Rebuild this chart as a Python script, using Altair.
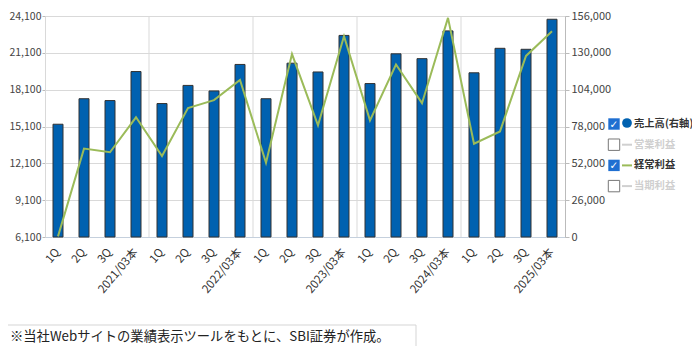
import altair as alt
import pandas as pd

# ---- data ----
periods = ["1Q", "2Q", "3Q", "2021/03本",
           "1Q", "2Q", "3Q", "2022/03本",
           "1Q", "2Q", "3Q", "2023/03本",
           "1Q", "2Q", "3Q", "2024/03本",
           "1Q", "2Q", "3Q", "2025/03本"]
sales = [79600, 97600, 96300, 116800,
         94200, 107000, 103100, 121800,
         97600, 122700, 116500, 142300,
         108300, 129300, 125900, 145500,
         115900, 133200, 132500, 153700]
ordinary_profit = [6150, 13300, 13000, 15850,
                   12700, 16600, 17250, 18900,
                   12150, 21000, 15200, 22450,
                   15600, 20150, 17000, 23950,
                   13700, 14700, 20850, 22850]
left_ticks = [6100, 9100, 12100, 15100, 18100, 21100, 24100]
right_ticks = [0, 26000, 52000, 78000, 104000, 130000, 156000]
legend_labels = ["売上高(右軸)", "営業利益", "経常利益", "当期利益"]
legend_checked = [True, False, True, False]
footnote = "※当社Webサイトの業績表示ツールをもとに、SBI証券が作成。"

keys = [f"{i:02d}|{p}" for i, p in enumerate(periods)]
df = pd.DataFrame({"key": keys, "sales": sales, "op": ordinary_profit})
year_end = df[df["key"].str.contains("本")].iloc[:-1]

W, H = 520, 221
PL, PT = 37, 8
TOTAL_W, TOTAL_H = 684, 338
OX, OY = PL + 8, PT + 8          # page offset of the plot origin
FONT = "Noto Sans CJK JP"
BLUE = "#0061b0"
GREEN = "#9bbb59"

xenc = alt.X("key:N", sort=keys, title=None,
             scale=alt.Scale(paddingInner=0, paddingOuter=0),
             axis=alt.Axis(labelExpr="split(datum.label, '|')[1]", labelAngle=310,
                           ticks=False, domainColor="#c5d0dd", labelColor="#333",
                           labelFontSize=11.5, labelPadding=13, labelFont=FONT))

year_rules = alt.Chart(year_end).mark_rule(color="#d9d9d9", strokeWidth=1).encode(
    x=alt.X("key:N", sort=keys, bandPosition=1),
    y=alt.value(0), y2=alt.value(H))

bars = alt.Chart(df).mark_bar(size=10, color=BLUE, stroke="#333", strokeWidth=1).encode(
    x=xenc,
    y=alt.Y("sales:Q", title=None,
            scale=alt.Scale(domain=[0, 156000], nice=False),
            axis=alt.Axis(orient="right", values=right_ticks, format=",d", grid=False,
                          domainColor="#bbbbbb", tickColor="#bbbbbb", tickSize=4,
                          labelColor="#444", labelFontSize=11, labelPadding=2,
                          labelFont=FONT)))

line = alt.Chart(df).mark_line(color=GREEN, strokeWidth=2).encode(
    x=alt.X("key:N", sort=keys),
    y=alt.Y("op:Q", title=None,
            scale=alt.Scale(domain=[6100, 24100], nice=False, zero=False),
            axis=alt.Axis(orient="left", values=left_ticks, format=",d", grid=True,
                          gridColor="#d9d9d9", domainColor="#d9d9d9", tickColor="#bbbbbb",
                          tickSize=3, labelColor="#444", labelFontSize=10.5, labelPadding=1,
                          labelFont=FONT)))

one = pd.DataFrame({"a": [0]})
legend_layers = []
ly0, lstep = 124 - OY, 20.7
cx = 614 - OX
for i, (lab, chk) in enumerate(zip(legend_labels, legend_checked)):
    y = ly0 + i * lstep
    if chk:
        legend_layers.append(alt.Chart(one).mark_point(
            shape="square", size=130, filled=True, color="#1f6fd1", opacity=1).encode(
            x=alt.value(cx), y=alt.value(y)))
        legend_layers.append(alt.Chart(one).mark_text(
            font="DejaVu Sans", fontSize=10.5, fontWeight="bold", color="white").encode(
            x=alt.value(cx), y=alt.value(y + 1), text=alt.value("✓")))
    else:
        legend_layers.append(alt.Chart(one).mark_point(
            shape="square", size=130, filled=True, fill="white", stroke="#777",
            strokeWidth=1, opacity=1).encode(x=alt.value(cx), y=alt.value(y)))
    if i == 0:
        legend_layers.append(alt.Chart(one).mark_point(
            shape="circle", size=95, filled=True, color=BLUE, opacity=1).encode(
            x=alt.value(cx + 13), y=alt.value(y - 1)))
    else:
        legend_layers.append(alt.Chart(one).mark_rule(
            color=GREEN if chk else "#d0d0d0", strokeWidth=2).encode(
            x=alt.value(cx + 8), x2=alt.value(cx + 18), y=alt.value(y)))
    legend_layers.append(alt.Chart(one).mark_text(
        align="left", baseline="middle", font=FONT, fontSize=10.3, fontWeight="bold",
        color="#333" if chk else "#cfcfcf").encode(
        x=alt.value(cx + 20), y=alt.value(y), text=alt.value(lab)))

box_top = alt.Chart(one).mark_rule(color="#d5d5d5", strokeWidth=1).encode(
    x=alt.value(-PL), x2=alt.value(416 - OX), y=alt.value(325 - OY))
box_side = alt.Chart(one).mark_rule(color="#d5d5d5", strokeWidth=1).encode(
    x=alt.value(416 - OX), y=alt.value(325 - OY), y2=alt.value(346 - OY))
note = alt.Chart(one).mark_text(
    align="left", baseline="middle", font=FONT, fontSize=13.3, color="#222").encode(
    x=alt.value(10 - OX), y=alt.value(337 - OY), text=alt.value(footnote))

chart = alt.layer(year_rules, bars, line, box_top, box_side, note, *legend_layers).resolve_scale(
    y="independent"
).properties(
    width=W, height=H,
    padding={"left": PL, "top": PT, "right": TOTAL_W - PL - W, "bottom": TOTAL_H - PT - H},
    autosize=alt.AutoSizeParams(type="none"),
).configure_view(stroke=None).configure(font=FONT)

chart.save("out.html", embed_options={"renderer": "svg", "actions": False})
